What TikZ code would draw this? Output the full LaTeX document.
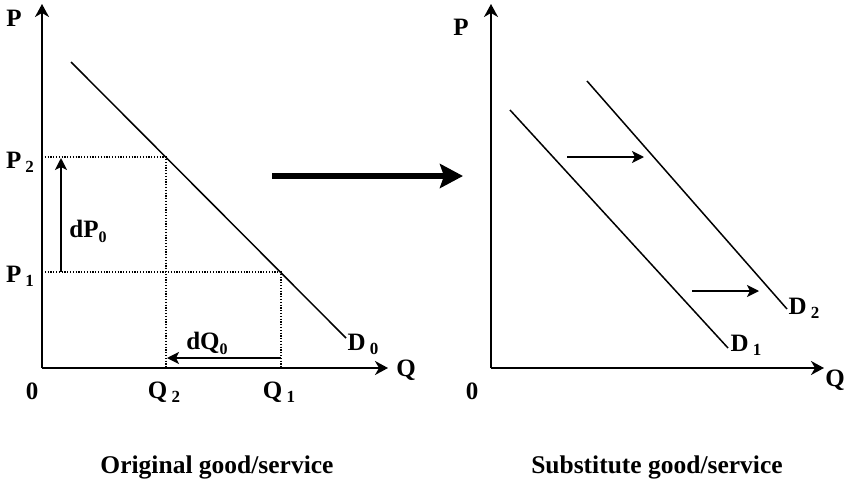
\documentclass[tikz,border=0pt]{standalone}
\usepackage{fontspec}
\setmainfont{Liberation Serif}
\usetikzlibrary{arrows.meta}
\newcommand{\lsub}[1]{\,\raisebox{-0.35ex}{\fontsize{17}{17}\selectfont #1}}
\newcommand{\tsub}[1]{\raisebox{-0.45ex}{\fontsize{16}{16}\selectfont #1}}

\begin{document}
\begin{tikzpicture}[
  x=1pt, y=-1pt,
  every node/.style={font=\fontsize{25}{27}\selectfont\bfseries, inner sep=0pt},
  axis/.style={line width=1.7pt, -{Stealth[length=13pt, width=14pt, inset=4pt]}},
  demand/.style={line width=1.5pt},
  guide/.style={line width=1.2pt, dash pattern=on 1.2pt off 1.6pt},
  movearrow/.style={line width=1.6pt, -{Stealth[length=12pt, width=12pt, inset=3pt]}},
  caption/.style={font=\fontsize{25.5}{28}\selectfont\bfseries}]
\useasboundingbox (0,0) rectangle (847,482);
% original good
\coordinate (o1) at (42,368);
\coordinate (ptop1) at (42,4);
\coordinate (qend1) at (388,368);
\draw[axis] (o1) -- (ptop1);
\draw[axis] (o1) -- (qend1);
\coordinate (d0a) at (71,62);
\coordinate (d0b) at (346,338);
\draw[demand] (d0a) -- (d0b);
\coordinate (a2) at (166,157);
\coordinate (a1) at (281,272);
\coordinate (p2y) at (42,157);
\coordinate (p1y) at (42,272);
\coordinate (q2x) at (166,368);
\coordinate (q1x) at (281,368);
\draw[guide] (p2y) -- (a2) -- (q2x);
\draw[guide] (p1y) -- (a1) -- (q1x);
\coordinate (dpa) at (61,272);
\coordinate (dpb) at (61,158);
\coordinate (dqa) at (281,358);
\coordinate (dqb) at (167,358);
\draw[movearrow] (dpa) -- (dpb);
\draw[movearrow] (dqa) -- (dqb);
\node (plab1) at (14,18) {P};
\node (p2lab) at (20,162) {P\lsub{2}};
\node (p1lab) at (20,276) {P\lsub{1}};
\node (dplab) at (88,231) {dP\tsub{0}};
\node (olab1) at (32,391) {0};
\node (q2lab) at (164,392) {Q\lsub{2}};
\node (q1lab) at (279,392) {Q\lsub{1}};
\node (qlab1) at (406,370) {Q};
\node (dqlab) at (207,343) {dQ\tsub{0}};
\node (d0lab) at (363,344) {D\lsub{0}};
% big arrow
\coordinate (bigA) at (272,176);
\coordinate (bigB) at (463,176);
\draw[line width=6pt, -{Stealth[length=23pt, width=24pt, inset=4pt]}] (bigA) -- (bigB);
% substitute good
\coordinate (o2) at (491,368);
\coordinate (ptop2) at (491,4);
\coordinate (qend2) at (824,368);
\draw[axis] (o2) -- (ptop2);
\draw[axis] (o2) -- (qend2);
\coordinate (d1a) at (510,110);
\coordinate (d1b) at (728,348);
\coordinate (d2a) at (587,81);
\coordinate (d2b) at (787,309);
\draw[demand] (d1a) -- (d1b);
\draw[demand] (d2a) -- (d2b);
\coordinate (sua) at (567,157);
\coordinate (sub) at (644,157);
\coordinate (sla) at (692,291);
\coordinate (slb) at (759,291);
\draw[movearrow] (sua) -- (sub);
\draw[movearrow] (sla) -- (slb);
\node (plab2) at (461,27) {P};
\node (olab2) at (472,391) {0};
\node (qlab2) at (835,380) {Q};
\node (d1lab) at (746,345) {D\lsub{1}};
\node (d2lab) at (804,308) {D\lsub{2}};
% captions
\node[caption] (cap1) at (217,467) {Original good/service};
\node[caption] (cap2) at (657,467) {Substitute good/service};
\end{tikzpicture}
\end{document}
